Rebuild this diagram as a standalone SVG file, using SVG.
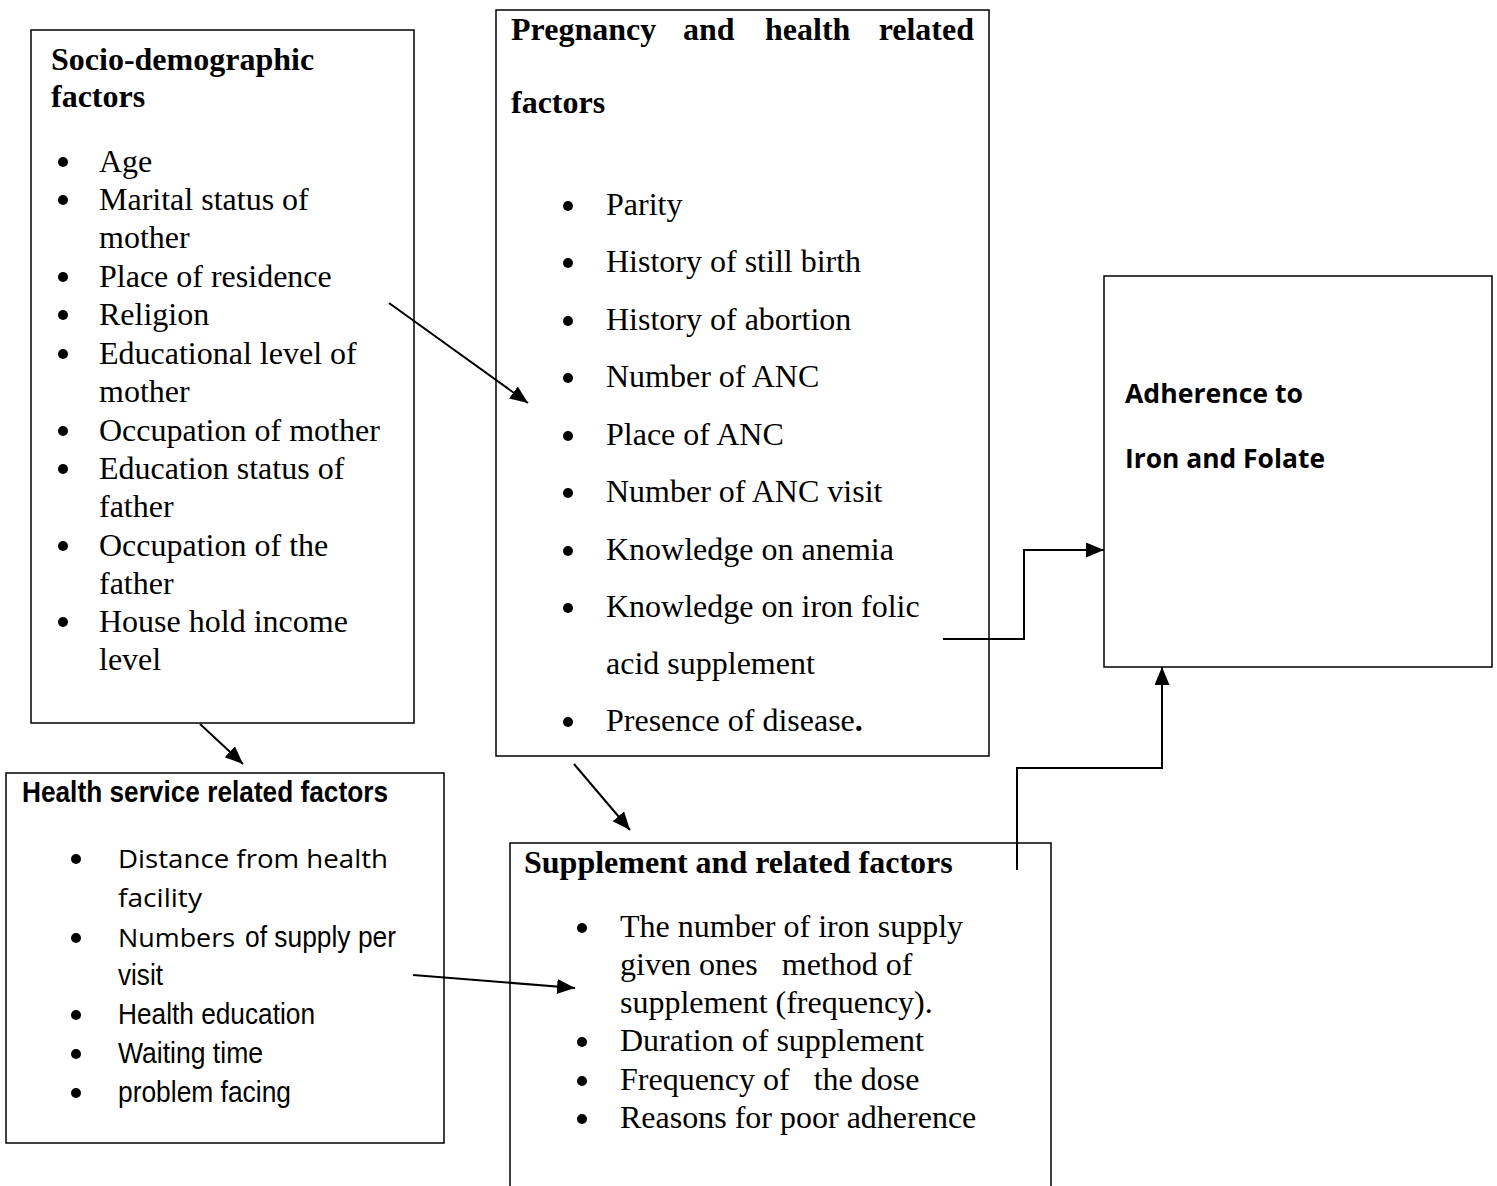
<svg xmlns="http://www.w3.org/2000/svg" width="1497" height="1186" viewBox="0 0 1497 1186">
<defs>
<marker id="ah" markerUnits="userSpaceOnUse" markerWidth="20" markerHeight="16" refX="18" refY="7.5" orient="auto"><path d="M0,0 L18,7.5 L0,15 z" fill="#000"/></marker>
<style>
.box{fill:none;stroke:#000;stroke-width:1.5}
.t{font-family:"Liberation Serif","Times New Roman",serif;font-size:32px;fill:#000}
.tb{font-family:"Liberation Serif","Times New Roman",serif;font-size:32px;font-weight:bold;fill:#000}
.c{font-family:"Open Sans","Noto Sans",sans-serif;font-size:26px;fill:#000}
.cb{font-family:"Open Sans","Noto Sans",sans-serif;font-size:27px;font-weight:bold;fill:#000}
.a{font-family:"Liberation Sans",Arial,sans-serif;font-size:29px;fill:#000}
.ab{font-family:"Liberation Sans",Arial,sans-serif;font-size:30px;font-weight:bold;fill:#000}
.bul{fill:#000}
.conn{fill:none;stroke:#000;stroke-width:2}
</style>
</defs>
<rect width="1497" height="1186" fill="#fff"/>

<g id="socio">
<rect class="box" x="31" y="30" width="383" height="693"/>
<text class="tb" x="51" y="70">Socio-demographic</text>
<text class="tb" x="51" y="107">factors</text>
<g class="bul">
<circle cx="63" cy="162" r="5"/><circle cx="63" cy="200" r="5"/><circle cx="63" cy="277" r="5"/><circle cx="63" cy="315" r="5"/><circle cx="63" cy="354" r="5"/><circle cx="63" cy="431" r="5"/><circle cx="63" cy="469" r="5"/><circle cx="63" cy="546" r="5"/><circle cx="63" cy="622" r="5"/>
</g>
<text class="t" x="99" y="172">Age</text>
<text class="t" x="99" y="210">Marital status of</text>
<text class="t" x="99" y="248">mother</text>
<text class="t" x="99" y="287">Place of residence</text>
<text class="t" x="99" y="325">Religion</text>
<text class="t" x="99" y="364">Educational level of</text>
<text class="t" x="99" y="402">mother</text>
<text class="t" x="99" y="441">Occupation of mother</text>
<text class="t" x="99" y="479">Education status of</text>
<text class="t" x="99" y="517">father</text>
<text class="t" x="99" y="556">Occupation of the</text>
<text class="t" x="99" y="594">father</text>
<text class="t" x="99" y="632">House hold income</text>
<text class="t" x="99" y="670">level</text>
</g>

<g id="pregnancy">
<rect class="box" x="496" y="10" width="493" height="746"/>
<text class="tb" x="511" y="40">Pregnancy</text>
<text class="tb" x="683" y="40">and</text>
<text class="tb" x="765" y="40">health</text>
<text class="tb" x="974" y="40" text-anchor="end">related</text>
<text class="tb" x="511" y="113">factors</text>
<g class="bul">
<circle cx="568" cy="206" r="5"/><circle cx="568" cy="263" r="5"/><circle cx="568" cy="321" r="5"/><circle cx="568" cy="378" r="5"/><circle cx="568" cy="436" r="5"/><circle cx="568" cy="493" r="5"/><circle cx="568" cy="551" r="5"/><circle cx="568" cy="608" r="5"/><circle cx="568" cy="722" r="5"/>
</g>
<text class="t" x="606" y="215">Parity</text>
<text class="t" x="606" y="272">History of still birth</text>
<text class="t" x="606" y="330">History of abortion</text>
<text class="t" x="606" y="387">Number of ANC</text>
<text class="t" x="606" y="445">Place of ANC</text>
<text class="t" x="606" y="502">Number of ANC visit</text>
<text class="t" x="606" y="560">Knowledge on anemia</text>
<text class="t" x="606" y="617">Knowledge on iron folic</text>
<text class="t" x="606" y="674">acid supplement</text>
<text class="t" x="606" y="731">Presence of disease<tspan font-weight="bold">.</tspan></text>
</g>

<g id="adherence">
<rect class="box" x="1104" y="276" width="388" height="391"/>
<text class="cb" x="1125" y="403" textLength="178" lengthAdjust="spacingAndGlyphs">Adherence to</text>
<text class="cb" x="1125" y="468" textLength="200" lengthAdjust="spacingAndGlyphs">Iron and Folate</text>
</g>

<g id="health-service">
<rect class="box" x="6" y="773" width="438" height="370"/>
<text class="ab" x="22" y="802" textLength="366" lengthAdjust="spacingAndGlyphs">Health service related factors</text>
<g class="bul">
<circle cx="76" cy="859" r="5"/><circle cx="76" cy="938" r="5"/><circle cx="76" cy="1015" r="5"/><circle cx="76" cy="1054" r="5"/><circle cx="76" cy="1093" r="5"/>
</g>
<text class="c" x="118" y="868" textLength="270" lengthAdjust="spacingAndGlyphs">Distance from health</text>
<text class="c" x="118" y="907" textLength="84" lengthAdjust="spacingAndGlyphs">facility</text>
<text class="c" x="118" y="947" textLength="117" lengthAdjust="spacingAndGlyphs">Numbers</text>
<text class="a" x="245" y="947" textLength="151" lengthAdjust="spacingAndGlyphs">of supply per</text>
<text class="a" x="118" y="985" textLength="45" lengthAdjust="spacingAndGlyphs">visit</text>
<text class="a" x="118" y="1024" textLength="197" lengthAdjust="spacingAndGlyphs">Health education</text>
<text class="a" x="118" y="1063" textLength="145" lengthAdjust="spacingAndGlyphs">Waiting time</text>
<text class="a" x="118" y="1102" textLength="173" lengthAdjust="spacingAndGlyphs">problem facing</text>
</g>

<g id="supplement">
<path class="box" d="M510,1186 V843 H1051 V1186"/>
<text class="tb" x="524" y="873">Supplement and related factors</text>
<g class="bul">
<circle cx="582" cy="928" r="5"/><circle cx="582" cy="1042" r="5"/><circle cx="582" cy="1081" r="5"/><circle cx="582" cy="1119" r="5"/>
</g>
<text class="t" x="620" y="937">The number of iron supply</text>
<text class="t" x="620" y="975" xml:space="preserve">given ones   method of</text>
<text class="t" x="620" y="1013">supplement (frequency).</text>
<text class="t" x="620" y="1051">Duration of supplement</text>
<text class="t" x="620" y="1090" xml:space="preserve">Frequency of   the dose</text>
<text class="t" x="620" y="1128">Reasons for poor adherence</text>
</g>

<g id="connectors">
<line class="conn" x1="389" y1="303" x2="528" y2="403" marker-end="url(#ah)"/>
<line class="conn" x1="200" y1="724" x2="243" y2="764" marker-end="url(#ah)"/>
<line class="conn" x1="574" y1="764" x2="630" y2="830" marker-end="url(#ah)"/>
<line class="conn" x1="413" y1="975" x2="575" y2="988" marker-end="url(#ah)"/>
<polyline class="conn" points="943,639 1024,639 1024,550 1104,550" marker-end="url(#ah)"/>
<polyline class="conn" points="1017,870 1017,768 1162,768 1162,667" marker-end="url(#ah)"/>
</g>
</svg>
